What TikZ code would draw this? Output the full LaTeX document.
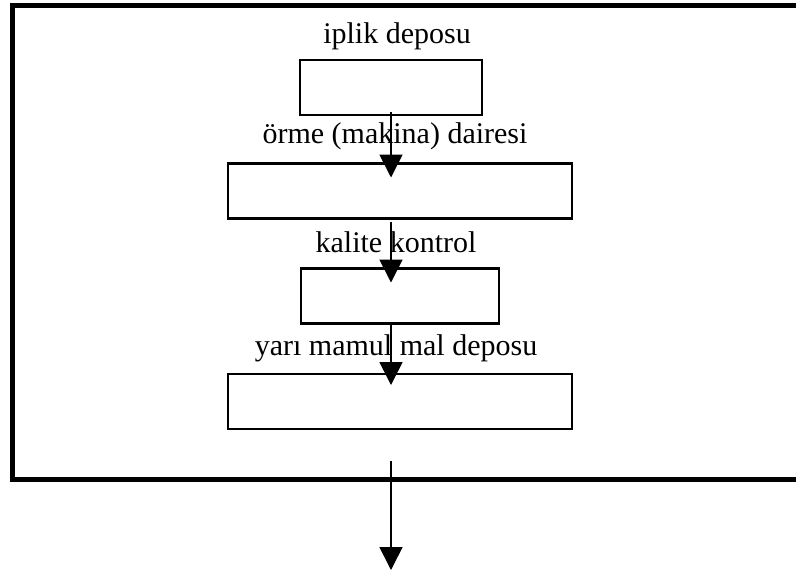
\documentclass[tikz,border=0pt]{standalone}
\usepackage{fontspec}
\setmainfont{Liberation Serif}
\usetikzlibrary{arrows.meta}
\begin{document}
\begin{tikzpicture}[x=1pt,y=-1pt,
  box/.style={draw, line width=2.2pt, minimum height=55pt, inner sep=0pt, outer sep=0pt},
  lbl/.style={anchor=base, inner sep=0pt, font=\fontsize{30}{36}\selectfont},
  arr/.style={line width=1.6pt, -{Triangle[width=23pt,length=23pt]}},
  frame/.style={line width=5pt, line join=miter}]
\useasboundingbox (0,0) rectangle (796,571);
\clip (0,0) rectangle (796,571);
\fill[white] (0,0) rectangle (796,571);
% outer frame (open on the right, beyond the picture)
\draw[frame] (830,5) -- (12,5) -- (12,479) -- (830,479);
% boxes
\node[box, minimum width=182pt] (b1) at (391,87.5) {};
\node[box, minimum width=344pt] (b2) at (400,191) {};
\node[box, minimum width=198pt] (b3) at (400,296) {};
\node[box, minimum width=344pt] (b4) at (400,401.5) {};
% labels
\node[lbl] (t1) at (397,43) {iplik deposu};
\node[lbl] (t2) at (395,143) {örme (makina) dairesi};
\node[lbl] (t3) at (396,252) {kalite kontrol};
\node[lbl] (t4) at (396,355) {yarı mamul mal deposu};
% arrows
\coordinate (out) at (391,570);
\draw[arr] ([yshift=3pt]b1.south) -- ([yshift=-14pt]b1.south |- b2.north);
\draw[arr] ([yshift=-3pt]b1.south |- b2.south) -- ([yshift=-14pt]b1.south |- b3.north);
\draw[arr] ([yshift=2pt]b1.south |- b3.south) -- ([yshift=-11pt]b1.south |- b4.north);
\draw[arr] ([yshift=-32pt]b1.south |- b4.south) -- (out);
\end{tikzpicture}
\end{document}
